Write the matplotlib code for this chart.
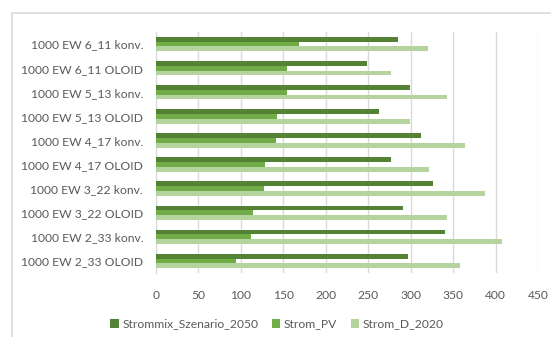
import matplotlib
matplotlib.use("Agg")
import matplotlib.pyplot as plt
from matplotlib.patches import Patch
from matplotlib.lines import Line2D
import numpy as np

# Categories listed bottom to top (as they appear on the y axis)
categories = [
    "1000 EW 2_33 OLOID",
    "1000 EW 2_33 konv.",
    "1000 EW 3_22 OLOID",
    "1000 EW 3_22 konv.",
    "1000 EW 4_17 OLOID",
    "1000 EW 4_17 konv.",
    "1000 EW 5_13 OLOID",
    "1000 EW 5_13 konv.",
    "1000 EW 6_11 OLOID",
    "1000 EW 6_11 konv.",
]
strommix_2050 = [297, 340, 291, 326, 277, 312, 263, 299, 249, 285]
strom_pv = [94, 112, 115, 127, 128, 141, 143, 155, 155, 168]
strom_d_2020 = [358, 407, 343, 387, 321, 364, 299, 343, 277, 320]

series_names = ["Strommix_Szenario_2050", "Strom_PV", "Strom_D_2020"]
series_colors = ["#548235", "#70AD47", "#B4D39F"]
x_ticks = [0, 50, 100, 150, 200, 250, 300, 350, 400, 450]

W, H = 551, 337
fig = plt.figure(figsize=(W / 100, H / 100), dpi=100)
fig.patch.set_facecolor("white")

# chart-area frame (left and top edges visible)
fig.add_artist(Line2D([12 / W, 12 / W], [0, 1 - 13 / H], transform=fig.transFigure,
                      color="#D9D9D9", lw=1.2))
fig.add_artist(Line2D([12 / W, 1], [1 - 13 / H, 1 - 13 / H], transform=fig.transFigure,
                      color="#D9D9D9", lw=1.2))

left, right, top, bottom = 155.7, 538.3, 32, 273
ax = fig.add_axes([left / W, 1 - bottom / H, (right - left) / W, (bottom - top) / H])

y = np.arange(len(categories))
h = 0.2
for vals, off, col in zip([strommix_2050, strom_pv, strom_d_2020], [h, 0, -h], series_colors):
    ax.barh(y + off, vals, height=h, color=col, zorder=3, linewidth=0)

ax.set_xlim(0, 450)
ax.set_ylim(-0.5, len(categories) - 0.5)
ax.set_xticks(x_ticks)
ax.set_yticks(y)
ax.set_yticklabels(categories)
ax.grid(axis="x", color="#D9D9D9", lw=1, zorder=0)
for s in ["top", "right", "bottom"]:
    ax.spines[s].set_visible(False)
ax.spines["left"].set_color("#D9D9D9")
ax.tick_params(axis="both", length=0, colors="#595959", labelsize=8.7)
ax.tick_params(axis="x", pad=12)
ax.tick_params(axis="y", pad=9)
for lab in ax.get_xticklabels() + ax.get_yticklabels():
    lab.set_fontfamily("Lato")

handles = [Patch(facecolor=c, edgecolor="none") for c in series_colors]
fig.legend(handles, series_names, loc="center", bbox_to_anchor=(277 / W, 1 - 324 / H),
           ncol=3, frameon=False, handlelength=0.7, handleheight=0.7, handletextpad=0.3,
           columnspacing=1.1, prop={"family": "Lato", "size": 8.7}, labelcolor="#595959")

fig.savefig("out.png", dpi=100)
